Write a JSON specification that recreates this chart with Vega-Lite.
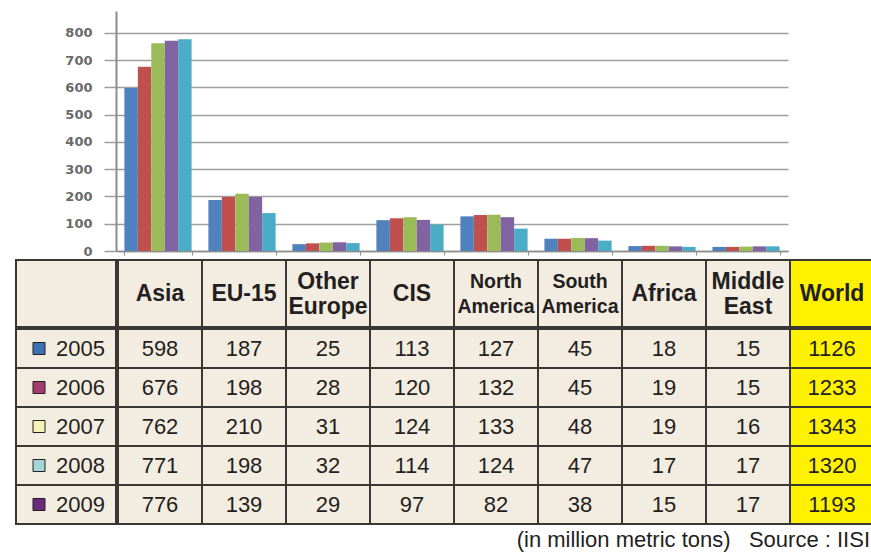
{
  "$schema": "https://vega.github.io/schema/vega-lite/v6.json",
  "background": "white",
  "padding": {"left": 15, "top": 11, "right": 0, "bottom": 6},
  "autosize": {"type": "pad"},
  "title": {"text": "(in million metric tons)\u00a0\u00a0\u00a0Source : IISI", "orient": "bottom", "anchor": "end", "fontSize": 22, "fontWeight": "normal", "font": "Liberation Sans", "color": "#231f20", "offset": 5, "dx": -5},
  "config": {"view": {"stroke": null}, "font": "Liberation Sans"},
  "datasets": {
    "steel": [
      {"year": "2005", "region": "Asia", "value": 598},
      {"year": "2005", "region": "EU-15", "value": 187},
      {"year": "2005", "region": "Other Europe", "value": 25},
      {"year": "2005", "region": "CIS", "value": 113},
      {"year": "2005", "region": "North America", "value": 127},
      {"year": "2005", "region": "South America", "value": 45},
      {"year": "2005", "region": "Africa", "value": 18},
      {"year": "2005", "region": "Middle East", "value": 15},
      {"year": "2005", "region": "World", "value": 1126},
      {"year": "2006", "region": "Asia", "value": 676},
      {"year": "2006", "region": "EU-15", "value": 198},
      {"year": "2006", "region": "Other Europe", "value": 28},
      {"year": "2006", "region": "CIS", "value": 120},
      {"year": "2006", "region": "North America", "value": 132},
      {"year": "2006", "region": "South America", "value": 45},
      {"year": "2006", "region": "Africa", "value": 19},
      {"year": "2006", "region": "Middle East", "value": 15},
      {"year": "2006", "region": "World", "value": 1233},
      {"year": "2007", "region": "Asia", "value": 762},
      {"year": "2007", "region": "EU-15", "value": 210},
      {"year": "2007", "region": "Other Europe", "value": 31},
      {"year": "2007", "region": "CIS", "value": 124},
      {"year": "2007", "region": "North America", "value": 133},
      {"year": "2007", "region": "South America", "value": 48},
      {"year": "2007", "region": "Africa", "value": 19},
      {"year": "2007", "region": "Middle East", "value": 16},
      {"year": "2007", "region": "World", "value": 1343},
      {"year": "2008", "region": "Asia", "value": 771},
      {"year": "2008", "region": "EU-15", "value": 198},
      {"year": "2008", "region": "Other Europe", "value": 32},
      {"year": "2008", "region": "CIS", "value": 114},
      {"year": "2008", "region": "North America", "value": 124},
      {"year": "2008", "region": "South America", "value": 47},
      {"year": "2008", "region": "Africa", "value": 17},
      {"year": "2008", "region": "Middle East", "value": 17},
      {"year": "2008", "region": "World", "value": 1320},
      {"year": "2009", "region": "Asia", "value": 776},
      {"year": "2009", "region": "EU-15", "value": 139},
      {"year": "2009", "region": "Other Europe", "value": 29},
      {"year": "2009", "region": "CIS", "value": 97},
      {"year": "2009", "region": "North America", "value": 82},
      {"year": "2009", "region": "South America", "value": 38},
      {"year": "2009", "region": "Africa", "value": 15},
      {"year": "2009", "region": "Middle East", "value": 17},
      {"year": "2009", "region": "World", "value": 1193}
    ]
  },
  "spacing": 1,
  "vconcat": [
    {
      "width": 772,
      "height": 240,
      "data": {"name": "steel"},
      "transform": [{"filter": "datum.region !== 'World'"}],
      "mark": {"type": "bar"},
      "encoding": {
        "x": {
          "field": "region", "type": "nominal",
          "sort": ["Asia", "EU-15", "Other Europe", "CIS", "North America", "South America", "Africa", "Middle East"],
          "scale": {"range": [100, 772], "paddingInner": 0.2, "paddingOuter": 0.1},
          "axis": {"title": null, "labels": false, "tickBand": "extent", "tickSize": 4, "domainColor": "#8c8c8c", "tickColor": "#8c8c8c", "domainWidth": 1.5, "grid": false}
        },
        "xOffset": {"field": "year", "type": "nominal"},
        "y": {
          "field": "value", "type": "quantitative",
          "scale": {"domain": [0, 880], "nice": false},
          "axis": {"title": null, "offset": -100, "values": [0, 100, 200, 300, 400, 500, 600, 700, 800], "tickSize": 12, "labelPadding": 12, "domainColor": "#8c8c8c", "domainWidth": 2, "tickColor": "#9e9e9e", "tickWidth": 1.5, "gridColor": "#9e9e9e", "gridWidth": 1.5, "gridOpacity": 1, "labelFont": "DejaVu Sans", "labelFontSize": 13, "labelFontWeight": "bold", "labelColor": "#6a6a6a"}
        },
        "color": {"field": "year", "type": "nominal", "scale": {"range": ["#4f81bd", "#c0504d", "#9bbb59", "#8064a2", "#4bacc6"]}, "legend": null}
      }
    },
    {
      "columns": 2,
      "spacing": 0,
      "concat": [
        {
          "width": 100, "height": 67,
          "data": {"name": "steel"},
          "transform": [{"filter": "datum.region === 'Asia' && datum.year === '2005'"}],
          "mark": {"type": "rect", "fill": "#f3ece1", "stroke": "#3a3632", "strokeWidth": 2}
        },
        {
          "width": 756, "height": 67,
          "data": {"name": "steel"},
          "transform": [{"filter": "datum.year === '2005'"}],
          "encoding": {
            "x": {"field": "region", "type": "nominal", "sort": ["Asia", "EU-15", "Other Europe", "CIS", "North America", "South America", "Africa", "Middle East", "World"], "scale": {"paddingInner": 0, "paddingOuter": 0}, "axis": null}
          },
          "layer": [
            {"mark": {"type": "rect", "stroke": "#3a3632", "strokeWidth": 2}, "encoding": {"fill": {"condition": {"test": "datum.region === 'World'", "value": "#fff200"}, "value": "#f3ece1"}}},
            {"transform": [{"filter": "indexof(datum.region, ' ') < 0"}], "mark": {"type": "text", "fontWeight": "bold", "fontSize": 23, "color": "#231f20", "font": "Liberation Sans"}, "encoding": {"text": {"field": "region"}}},
            {"transform": [{"filter": "indexof(datum.region, ' ') >= 0"}], "mark": {"type": "text", "fontWeight": "bold", "lineBreak": " ", "lineHeight": 25, "dy": -12, "color": "#231f20", "font": "Liberation Sans"}, "encoding": {"text": {"field": "region"}, "size": {"condition": {"test": "datum.region === 'North America' || datum.region === 'South America'", "value": 19.5}, "value": 23}}}
          ]
        },
        {
          "width": 100, "height": 195,
          "data": {"name": "steel"},
          "transform": [{"filter": "datum.region === 'Asia'"}],
          "encoding": {"y": {"field": "year", "type": "nominal", "scale": {"paddingInner": 0, "paddingOuter": 0}, "axis": null}},
          "layer": [
            {"mark": {"type": "rect", "fill": "#f3ece1", "stroke": "#3a3632", "strokeWidth": 2}},
            {"mark": {"type": "point", "shape": "square", "filled": true, "size": 144, "stroke": "#231f20", "strokeWidth": 1, "opacity": 1, "xOffset": -27}, "encoding": {"fill": {"field": "year", "type": "nominal", "scale": {"range": ["#3a72b3", "#a43d6e", "#f6f1b4", "#a3d4d8", "#6c2a7c"]}, "legend": null}}},
            {"mark": {"type": "text", "align": "left", "dx": -10, "fontSize": 22, "color": "#231f20", "font": "Liberation Sans"}, "encoding": {"text": {"field": "year"}}}
          ]
        },
        {
          "width": 756, "height": 195,
          "data": {"name": "steel"},
          "encoding": {
            "x": {"field": "region", "type": "nominal", "sort": ["Asia", "EU-15", "Other Europe", "CIS", "North America", "South America", "Africa", "Middle East", "World"], "scale": {"paddingInner": 0, "paddingOuter": 0}, "axis": null},
            "y": {"field": "year", "type": "nominal", "scale": {"paddingInner": 0, "paddingOuter": 0}, "axis": null}
          },
          "layer": [
            {"mark": {"type": "rect", "stroke": "#3a3632", "strokeWidth": 2}, "encoding": {"fill": {"condition": {"test": "datum.region === 'World'", "value": "#fff200"}, "value": "#f3ece1"}}},
            {"mark": {"type": "text", "fontSize": 22, "color": "#231f20", "font": "Liberation Sans"}, "encoding": {"text": {"field": "value", "type": "quantitative"}}}
          ]
        }
      ]
    }
  ]
}
